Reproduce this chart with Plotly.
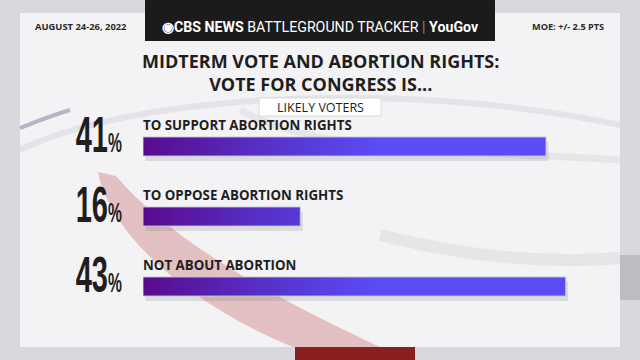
import plotly.graph_objects as go

# ---- data ----
categories = ["TO SUPPORT ABORTION RIGHTS", "TO OPPOSE ABORTION RIGHTS", "NOT ABOUT ABORTION"]
values = [41, 16, 43]
value_labels = ["41", "16", "43"]

W, H = 640, 360


def px(x):
    return x / W


def py(y):
    return 1 - y / H


def P(x, y):
    return f"{px(x):.4f},{py(y):.4f}"


fig = go.Figure()

half = 0.136
for i, (cat, v) in enumerate(zip(categories, values)):
    # drop shadow
    fig.add_trace(go.Scatter(
        x=[0.25, v + 0.25, v + 0.25, 0.25, 0.25],
        y=[i - half + 0.07, i - half + 0.07, i + half + 0.07, i + half + 0.07, i - half + 0.07],
        fill="toself", mode="lines", line=dict(width=0),
        fillcolor="rgba(60,60,80,0.13)", hoverinfo="skip", showlegend=False))
    fig.add_trace(go.Scatter(
        x=[0, v, v, 0, 0],
        y=[i - half, i - half, i + half, i + half, i - half],
        fill="toself", mode="lines",
        line=dict(width=1, color="rgba(200,200,215,0.9)"),
        fillgradient=dict(type="horizontal", start=0, stop=24,
                          colorscale=[[0, "#590a8c"], [0.5, "#5630c6"], [1, "#5b4cf6"]]),
        hoverinfo="skip", showlegend=False))
    fig.add_annotation(x=0, y=i - 0.305, xref="x", yref="y", text=f"<b>{cat}</b>",
                       showarrow=False, xanchor="left", yanchor="middle", xshift=-2,
                       font=dict(family="Open Sans", size=13.3, color="#1e1e1e"))
    fig.add_annotation(x=px(124), y=i - 0.16, xref="paper", yref="y",
                       text=f"<b>{value_labels[i]}</b><span style='font-size:27px'><b>%</b></span>",
                       showarrow=False, xanchor="right", yanchor="middle",
                       font=dict(family="Liberation Sans", size=50, color="#1e1e1e"))

shapes = []
# panel
shapes.append(dict(type="rect", xref="paper", yref="paper", x0=px(20), x1=px(620), y0=py(347), y1=py(13),
                   fillcolor="#f3f3f5", line=dict(width=0), layer="below"))
# soft light arcs
shapes.append(dict(type="path", xref="paper", yref="paper", layer="below",
                   path=f"M {P(20,150)} C {P(120,100)} {P(380,75)} {P(620,125)}",
                   line=dict(color="rgba(180,180,195,0.25)", width=6)))
shapes.append(dict(type="path", xref="paper", yref="paper", layer="below",
                   path=f"M {P(240,110)} C {P(330,160)} {P(500,150)} {P(620,160)}",
                   line=dict(color="rgba(190,190,200,0.25)", width=7)))
shapes.append(dict(type="path", xref="paper", yref="paper", layer="below",
                   path=f"M {P(20,128)} C {P(35,122)} {P(50,116)} {P(70,110)}",
                   line=dict(color="rgba(60,70,110,0.35)", width=4)))
shapes.append(dict(type="path", xref="paper", yref="paper", layer="below",
                   path=f"M {P(380,235)} C {P(460,255)} {P(540,265)} {P(620,258)}",
                   line=dict(color="rgba(190,190,200,0.25)", width=12)))
# red ribbon
shapes.append(dict(type="path", xref="paper", yref="paper", layer="below",
                   path=(f"M {P(98,172)} C {P(110,235)} {P(190,305)} {P(293,347)} "
                         f"L {P(380,347)} C {P(280,300)} {P(175,245)} {P(116,176)} Z"),
                   fillcolor="rgba(205,125,125,0.42)", line=dict(width=0)))
# outer bottom dark red
shapes.append(dict(type="rect", xref="paper", yref="paper", x0=px(295), x1=px(415), y0=py(360), y1=py(347),
                   fillcolor="#8a1f22", line=dict(width=0), layer="below"))
# outer right gray
shapes.append(dict(type="rect", xref="paper", yref="paper", x0=px(620), x1=px(640), y0=py(300), y1=py(255),
                   fillcolor="#bdbdc1", line=dict(width=0), layer="below"))
# header black box
shapes.append(dict(type="rect", xref="paper", yref="paper", x0=px(145), x1=px(495), y0=py(41), y1=py(0),
                   fillcolor="#1b1b1b", line=dict(width=0)))
# likely voters box
shapes.append(dict(type="rect", xref="paper", yref="paper", x0=px(259), x1=px(381), y0=py(116), y1=py(98),
                   fillcolor="#ffffff", line=dict(width=1, color="#dadada")))

annotations = [
    dict(x=px(33), y=py(27), text="<b>AUGUST 24-26, 2022</b>", xanchor="left", yanchor="middle",
         font=dict(family="Open Sans", size=9.4, color="#2a2a2a")),
    dict(x=px(606), y=py(27), text="<b>MOE: +/- 2.5 PTS</b>", xanchor="right", yanchor="middle",
         font=dict(family="Open Sans", size=9.2, color="#2a2a2a")),
    dict(x=px(320), y=py(27),
         text=("<b>◉CBS NEWS</b> BATTLEGROUND TRACKER <span style='color:#888'>|</span> <b>YouGov</b>"),
         xanchor="center", yanchor="middle",
         font=dict(family="Roboto", size=14.2, color="#ffffff")),
    dict(x=px(320), y=py(73),
         text="<b>MIDTERM VOTE AND ABORTION RIGHTS:</b><br><b>VOTE FOR CONGRESS IS...</b>",
         xanchor="center", yanchor="middle",
         font=dict(family="Open Sans", size=18, color="#1e1e1e")),
    dict(x=px(320), y=py(107), text="LIKELY VOTERS", xanchor="center", yanchor="middle",
         font=dict(family="Open Sans", size=12.5, color="#1e1e1e")),
]
for a in annotations:
    a.update(xref="paper", yref="paper", showarrow=False)
    fig.add_annotation(**a)

fig.update_layout(
    width=W, height=H,
    margin=dict(l=0, r=0, t=0, b=0),
    paper_bgcolor="#d9d9dd",
    plot_bgcolor="rgba(0,0,0,0)",
    shapes=shapes,
    xaxis=dict(domain=[143 / W, 1], range=[0, (W - 143) / 9.83], visible=False, fixedrange=True),
    yaxis=dict(domain=[0, 1], range=[(H - 146.5) / 70, -146.5 / 70], visible=False, fixedrange=True),
    showlegend=False,
)

post_js = """
document.body.style.margin = '0';
document.body.style.padding = '0';
var gd = document.getElementById('{plot_id}');
gd.querySelectorAll('.annotation-text').forEach(function (t) {
  if (/^\\d+%$/.test(t.textContent.trim())) {
    t.style.transformBox = 'fill-box';
    t.style.transformOrigin = 'right center';
    t.style.transform = 'scaleX(0.58)';
  }
});
"""

fig.write_html("out.html", post_script=post_js, config={"displayModeBar": False})
